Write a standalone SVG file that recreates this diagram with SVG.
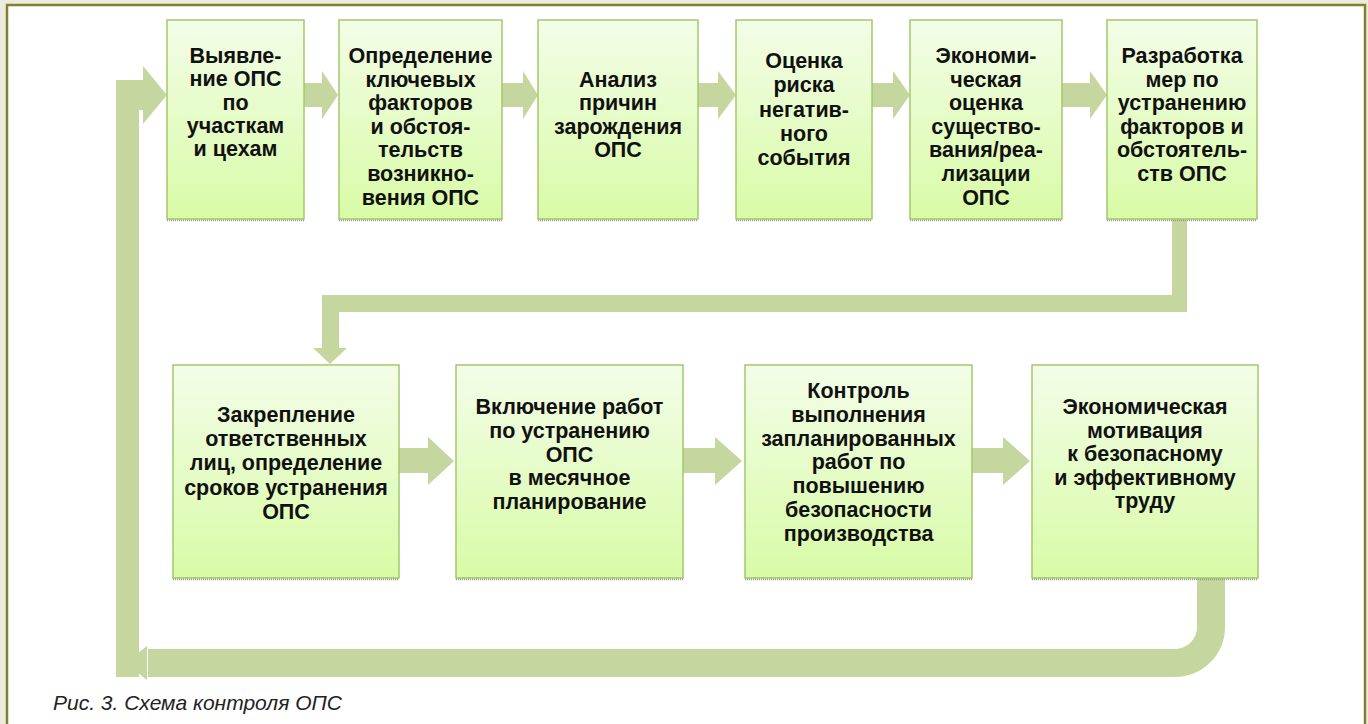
<svg xmlns="http://www.w3.org/2000/svg" width="1368" height="724" viewBox="0 0 1368 724">
<defs>
<linearGradient id="g" x1="0" y1="0" x2="0" y2="1">
<stop offset="0" stop-color="#f3fde8"/>
<stop offset="1" stop-color="#d8fba6"/>
</linearGradient>
<style>
.box{fill:url(#g);stroke:#a4c76c;stroke-width:1.5}
.sh{stroke:#9a9a9a;stroke-width:2.5;stroke-dasharray:1 1}
.t{font-family:"Liberation Sans",Arial,sans-serif;font-weight:bold;font-size:21.5px;fill:#111;text-anchor:middle}
.ar{fill:#c5d79e}
.cap{font-family:"Liberation Sans",Arial,sans-serif;font-style:italic;font-size:21px;fill:#222}
</style>
</defs>
<rect x="0" y="0" width="1368" height="724" fill="#ecebdf"/>
<rect x="7" y="5" width="1358" height="740" fill="#ffffff" stroke="#82822e" stroke-width="2.5"/>

<g id="connectors">
<polygon class="ar" points="304,83 322,83 322,71 338,95 322,119 322,107 304,107"/>
<polygon class="ar" points="502,83 523,83 523,71 538,95 523,119 523,107 502,107"/>
<polygon class="ar" points="698,83 718,83 718,71 736,95 718,119 718,107 698,107"/>
<polygon class="ar" points="872,83 893,83 893,71 910,95 893,119 893,107 872,107"/>
<polygon class="ar" points="1062,83 1090,83 1090,71 1107,95 1090,119 1090,107 1062,107"/>
<polygon class="ar" points="1172,219 1187,219 1187,312 339,312 339,348 347,348 330,364 313,348 322,348 322,295 1172,295"/>
<polygon class="ar" points="399,448 428,448 428,437 454,461 428,485 428,473 399,473"/>
<polygon class="ar" points="683,448 715,448 715,437 742,461 715,485 715,473 683,473"/>
<polygon class="ar" points="972,448 1003,448 1003,437 1030,461 1003,485 1003,473 972,473"/>
<path d="M1211,578 V627 A36,36 0 0 1 1175,663 H148" fill="none" stroke="#c5d79e" stroke-width="28"/>
<polygon class="ar" points="147,646 147,680 125,663"/>
<polygon class="ar" points="116,677 116,80 143,80 143,66 167,95 143,124 143,110 139,110 139,677"/>
</g>

<g id="n1">
<line class="sh" x1="167" y1="220" x2="304" y2="220"/>
<rect class="box" x="167" y="20" width="137" height="199"/>
<text class="t"><tspan x="235.5" y="63">Выявле-</tspan><tspan x="235.5" y="86.3">ние ОПС</tspan><tspan x="235.5" y="109.6">по</tspan><tspan x="235.5" y="132.9">участкам</tspan><tspan x="235.5" y="156.2">и цехам</tspan></text>
</g>
<g id="n2">
<line class="sh" x1="339" y1="220" x2="502" y2="220"/>
<rect class="box" x="339" y="20" width="163" height="199"/>
<text class="t"><tspan x="420.5" y="63">Определение</tspan><tspan x="420.5" y="86.6">ключевых</tspan><tspan x="420.5" y="110.2">факторов</tspan><tspan x="420.5" y="133.8">и обстоя-</tspan><tspan x="420.5" y="157.4">тельств</tspan><tspan x="420.5" y="181">возникно-</tspan><tspan x="420.5" y="204.6">вения ОПС</tspan></text>
</g>
<g id="n3">
<line class="sh" x1="538" y1="220" x2="698" y2="220"/>
<rect class="box" x="538" y="20" width="160" height="199"/>
<text class="t"><tspan x="618" y="86.5">Анализ</tspan><tspan x="618" y="110">причин</tspan><tspan x="618" y="133.5">зарождения</tspan><tspan x="618" y="157">ОПС</tspan></text>
</g>
<g id="n4">
<line class="sh" x1="736" y1="220" x2="872" y2="220"/>
<rect class="box" x="736" y="20" width="136" height="199"/>
<text class="t"><tspan x="804" y="68">Оценка</tspan><tspan x="804" y="92.3">риска</tspan><tspan x="804" y="116.6">негатив-</tspan><tspan x="804" y="140.9">ного</tspan><tspan x="804" y="165.2">события</tspan></text>
</g>
<g id="n5">
<line class="sh" x1="910" y1="220" x2="1062" y2="220"/>
<rect class="box" x="910" y="20" width="152" height="199"/>
<text class="t"><tspan x="986" y="63">Экономи-</tspan><tspan x="986" y="86.6">ческая</tspan><tspan x="986" y="110.2">оценка</tspan><tspan x="986" y="133.8">существо-</tspan><tspan x="986" y="157.4">вания/реа-</tspan><tspan x="986" y="181">лизации</tspan><tspan x="986" y="204.6">ОПС</tspan></text>
</g>
<g id="n6">
<line class="sh" x1="1107" y1="220" x2="1257" y2="220"/>
<rect class="box" x="1107" y="20" width="150" height="199"/>
<text class="t"><tspan x="1182" y="63">Разработка</tspan><tspan x="1182" y="86.5">мер по</tspan><tspan x="1182" y="110">устранению</tspan><tspan x="1182" y="133.5">факторов и</tspan><tspan x="1182" y="157">обстоятель-</tspan><tspan x="1182" y="180.5">ств ОПС</tspan></text>
</g>
<g id="n7">
<line class="sh" x1="173" y1="579" x2="399" y2="579"/>
<rect class="box" x="173" y="365" width="226" height="213"/>
<text class="t"><tspan x="286" y="421.7">Закрепление</tspan><tspan x="286" y="446">ответственных</tspan><tspan x="286" y="470.3">лиц, определение</tspan><tspan x="286" y="494.6">сроков устранения</tspan><tspan x="286" y="518.9">ОПС</tspan></text>
</g>
<g id="n8">
<line class="sh" x1="456" y1="579" x2="683" y2="579"/>
<rect class="box" x="456" y="365" width="227" height="213"/>
<text class="t"><tspan x="569.5" y="414.3">Включение работ</tspan><tspan x="569.5" y="437.9">по устранению</tspan><tspan x="569.5" y="461.5">ОПС</tspan><tspan x="569.5" y="485.1">в месячное</tspan><tspan x="569.5" y="508.7">планирование</tspan></text>
</g>
<g id="n9">
<line class="sh" x1="745" y1="579" x2="972" y2="579"/>
<rect class="box" x="745" y="365" width="227" height="213"/>
<text class="t"><tspan x="858.5" y="398.3">Контроль</tspan><tspan x="858.5" y="422">выполнения</tspan><tspan x="858.5" y="445.7">запланированных</tspan><tspan x="858.5" y="469.4">работ по</tspan><tspan x="858.5" y="493.1">повышению</tspan><tspan x="858.5" y="516.8">безопасности</tspan><tspan x="858.5" y="540.5">производства</tspan></text>
</g>
<g id="n10">
<line class="sh" x1="1032" y1="579" x2="1258" y2="579"/>
<rect class="box" x="1032" y="365" width="226" height="213"/>
<text class="t"><tspan x="1145" y="414">Экономическая</tspan><tspan x="1145" y="437.6">мотивация</tspan><tspan x="1145" y="461.2">к безопасному</tspan><tspan x="1145" y="484.8">и эффективному</tspan><tspan x="1145" y="508.4">труду</tspan></text>
</g>
<text class="cap" x="53" y="710">Рис. 3. Схема контроля ОПС</text>
</svg>
